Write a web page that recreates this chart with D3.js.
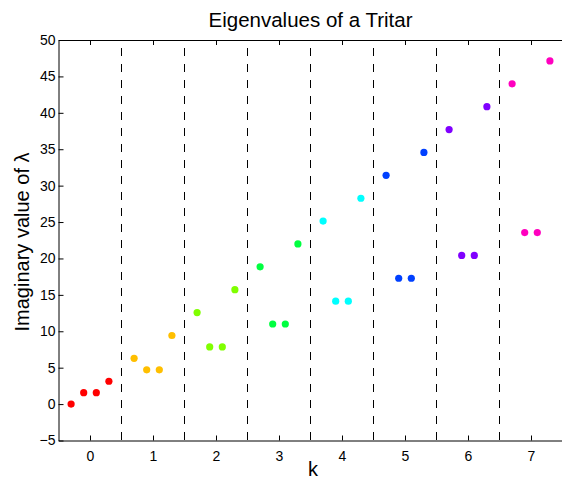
<!DOCTYPE html>
<html>
<head>
<meta charset="utf-8">
<script src="https://cdn.jsdelivr.net/npm/d3@7"></script>
<style>
  body { margin: 0; background: #fff; }
  text { font-family: "Liberation Sans", Arial, sans-serif; fill: #000; }
</style>
</head>
<body>
<div id="viz"></div>
<script>
/* Eigenvalues of a tritar, one group of 4 per k, coloured with an hsv map */

var categories = [0, 1, 2, 3, 4, 5, 6, 7];
var offsets = [-0.3, -0.1, 0.1, 0.3];
// imaginary parts, one row per k
var eigenvalues = [
  [0, 1.57, 1.57, 3.14],
  [6.28, 4.71, 4.71, 9.42],
  [12.57, 7.85, 7.85, 15.71],
  [18.85, 11.0, 11.0, 21.99],
  [25.13, 14.14, 14.14, 28.27],
  [31.42, 17.28, 17.28, 34.56],
  [37.7, 20.42, 20.42, 40.84],
  [43.98, 23.56, 23.56, 47.12]
];
var groupColors = ['#ff0000', '#ffbf00', '#80ff00', '#00ff40', '#00ffff', '#0040ff', '#8000ff', '#ff00bf'];
var separators = [0.5, 1.5, 2.5, 3.5, 4.5, 5.5, 6.5];
var xTicks = [0, 1, 2, 3, 4, 5, 6, 7];
var yTicks = [-5, 0, 5, 10, 15, 20, 25, 30, 35, 40, 45, 50];

var width = 562,
    height = 481,
    margin = { top: 40, right: -0.5, bottom: 40.5, left: 58.5 };

var x = d3.scaleLinear()
    .domain([-0.5, 7.5])
    .range([margin.left, width - margin.right]);

var y = d3.scaleLinear()
    .domain([-5, 50])
    .range([height - margin.bottom, margin.top]);

var svg = d3.select('#viz').append('svg')
    .attr('width', width)
    .attr('height', height);

// dashed separators between the k groups
svg.append('g')
  .selectAll('line')
  .data(separators)
  .enter().append('line')
    .attr('x1', function(d) { return x(d); })
    .attr('x2', function(d) { return x(d); })
    .attr('y1', y(50))
    .attr('y2', y(-5))
    .attr('stroke', '#000')
    .attr('stroke-width', 1)
    .attr('stroke-dasharray', '8,8')
    .attr('stroke-dashoffset', 8);

// points
var points = [];
eigenvalues.forEach(function(row, k) {
  row.forEach(function(v, j) {
    points.push({ k: categories[k], off: offsets[j], v: v, c: groupColors[k] });
  });
});

svg.append('g')
  .selectAll('circle')
  .data(points)
  .enter().append('circle')
    .attr('cx', function(d) { return x(d.k + d.off); })
    .attr('cy', function(d) { return y(d.v); })
    .attr('r', 3.6)
    .attr('fill', function(d) { return d.c; });

// axes, ticks inward like matlab
var xAxis = svg.append('g')
    .attr('transform', 'translate(0,' + y(-5) + ')')
    .call(d3.axisBottom(x).tickValues(xTicks).tickSize(-5).tickSizeOuter(0).tickPadding(11));

var xTop = svg.append('g')
    .attr('transform', 'translate(0,' + y(50) + ')')
    .call(d3.axisTop(x).tickValues(xTicks).tickSize(-5).tickSizeOuter(0).tickFormat(''));

var yAxis = svg.append('g')
    .attr('transform', 'translate(' + x(-0.5) + ',0)')
    .call(d3.axisLeft(y).tickValues(yTicks).tickSize(-5).tickSizeOuter(0).tickPadding(3));

svg.selectAll('.domain, .tick line')
    .attr('stroke', '#000');

svg.selectAll('.tick text')
    .attr('font-size', 14)
    .attr('font-family', '"Liberation Sans", Arial, sans-serif')
    .attr('fill', '#000');

// labels
svg.append('text')
    .attr('x', (x(-0.5) + x(7.5)) / 2)
    .attr('y', 27)
    .attr('text-anchor', 'middle')
    .attr('font-size', 20.5)
    .text('Eigenvalues of a Tritar');

svg.append('text')
    .attr('x', 313)
    .attr('y', 476)
    .attr('text-anchor', 'middle')
    .attr('font-size', 20)
    .text('k');

svg.append('text')
    .attr('transform', 'translate(29,' + 242 + ') rotate(-90)')
    .attr('text-anchor', 'middle')
    .attr('font-size', 20)
    .text('Imaginary value of λ');
</script>
</body>
</html>
